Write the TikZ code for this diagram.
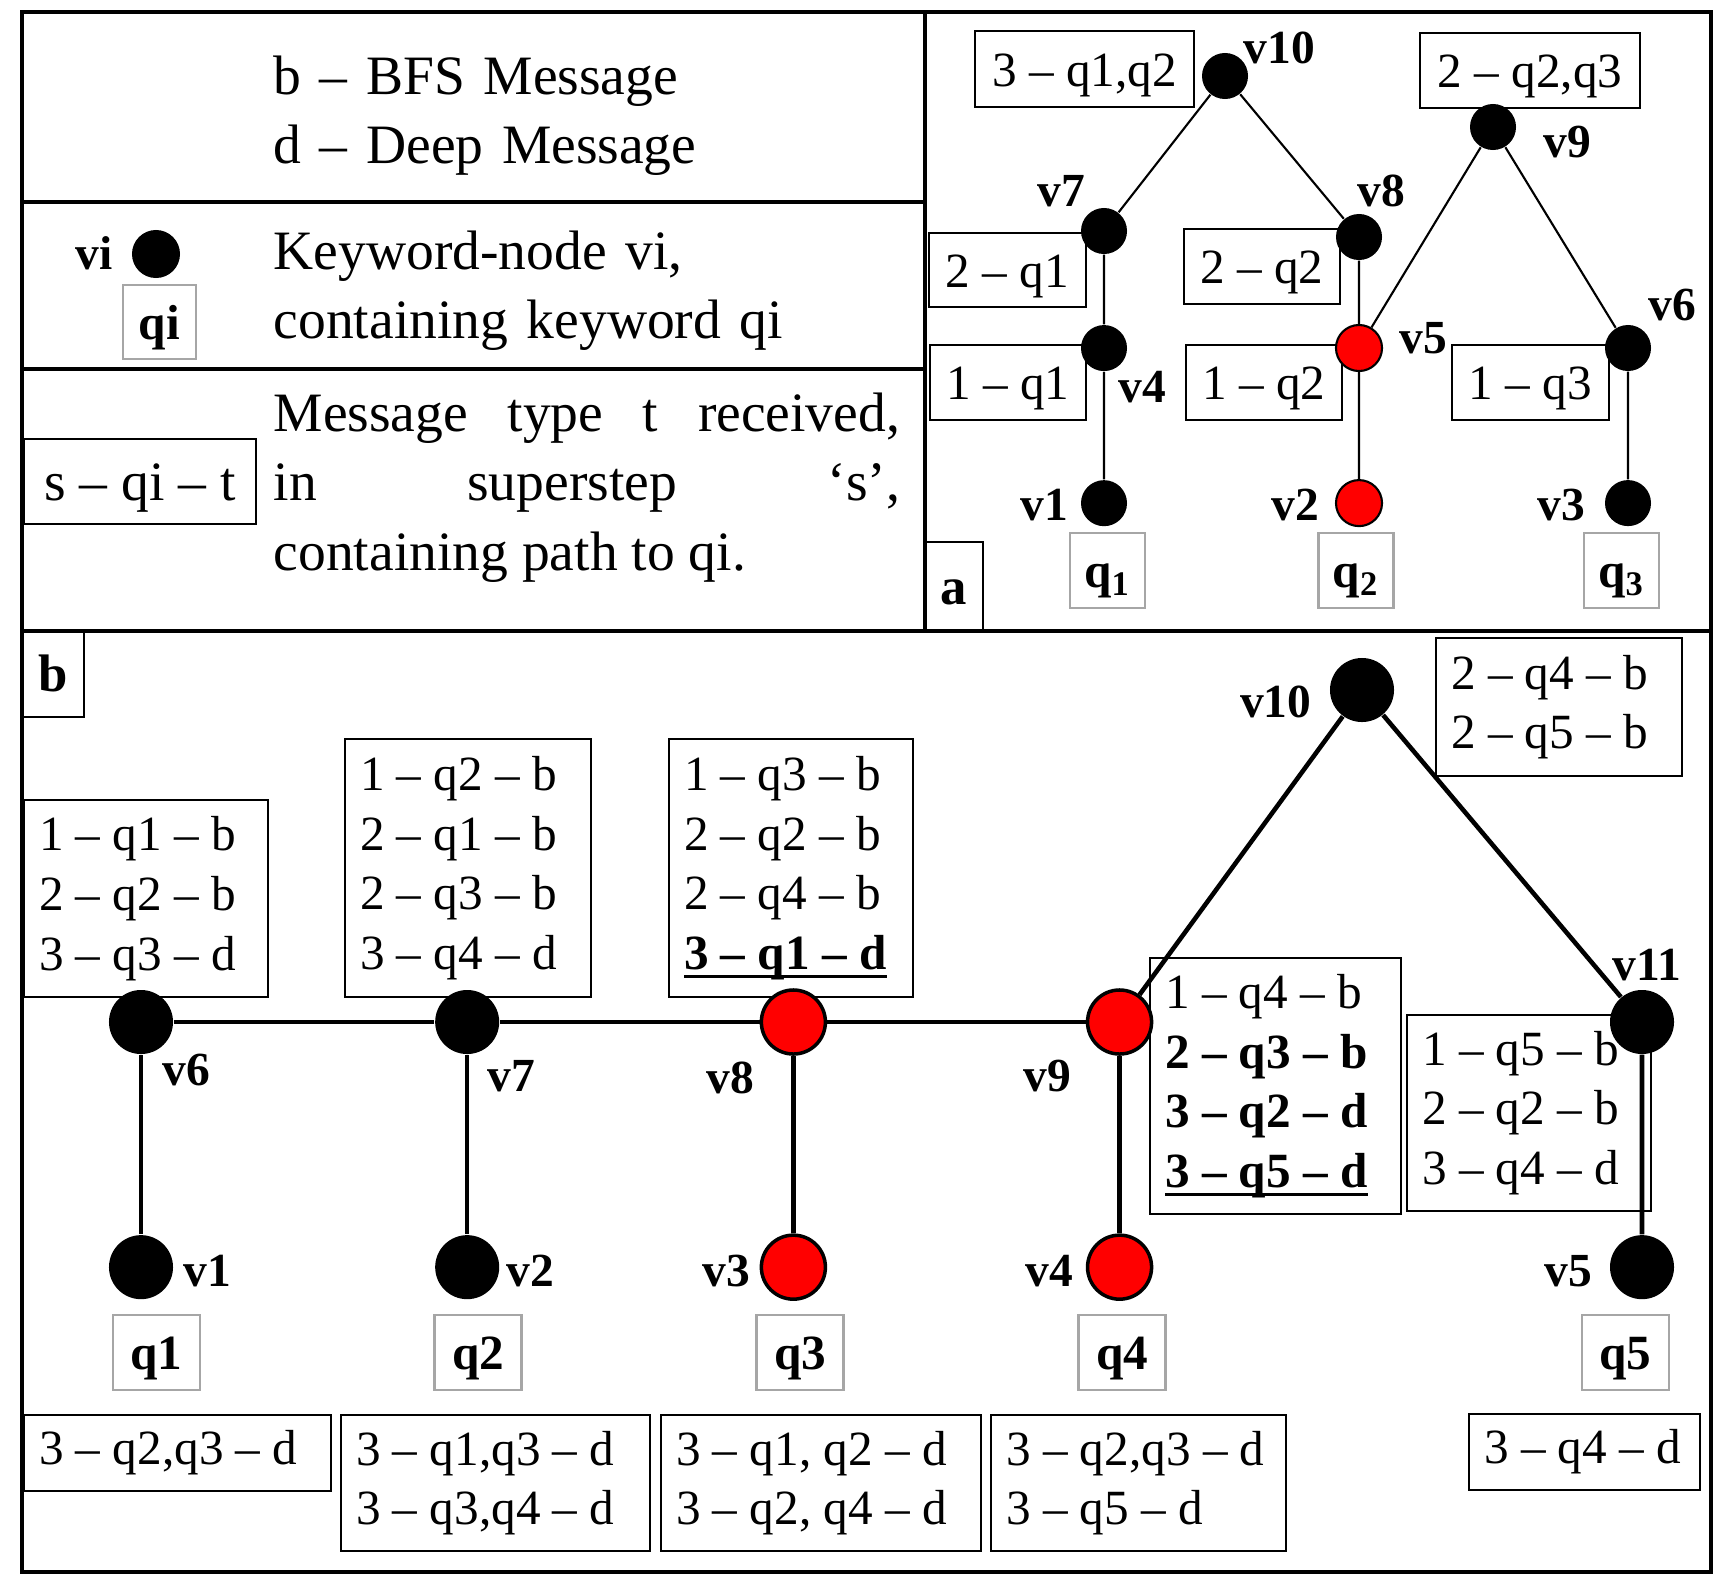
\documentclass[tikz,border=0pt]{standalone}
\usepackage{fontspec}
\setmainfont{Liberation Serif}
\usepackage{tikz}
\usetikzlibrary{positioning}
\tikzstyle{every node}=[font=\fontsize{14}{17}\selectfont]
\tikzstyle{kw}=[circle,fill=black,inner sep=0pt,minimum size=6.4mm]
\tikzstyle{kwred}=[kw,fill=red,draw=black,line width=1pt]
\tikzstyle{akw}=[circle,fill=black,inner sep=0pt,minimum size=4.6mm]
\tikzstyle{akwred}=[akw,fill=red,draw=black,line width=.6pt]
\tikzstyle{vlabel}=[inner sep=0pt,font=\fontsize{13.5}{14}\selectfont\bfseries]
\tikzstyle{msg}=[draw,line width=.6pt,anchor=north west,align=left,inner xsep=1.5mm,inner ysep=0pt,
  execute at begin node={\spaceskip=0pt\xspaceskip=0pt\relax}]
\tikzstyle{abox}=[draw,line width=.6pt,inner sep=0pt,text height=9.8pt,text depth=0pt]
\tikzstyle{qbox}=[abox,draw=gray!70,font=\fontsize{14}{14}\selectfont\bfseries]
\tikzstyle{pbox}=[abox,text height=10.5pt,font=\fontsize{15}{15}\selectfont\bfseries]
\tikzstyle{lgdtext}=[inner sep=0pt,anchor=base west,text width=6.26cm,align=left,font=\lgd]
\tikzstyle{bline}=[line width=1.3pt]
\tikzstyle{aline}=[line width=.6pt]
\tikzstyle{border}=[line width=1.4pt]
\newcommand{\lgd}{\fontsize{15.8}{19.8}\selectfont}
\newcommand{\uln}[1]{\leavevmode\setbox0=\hbox{#1}\rlap{\rule[-2.3pt]{\wd0}{.9pt}}\box0}

\begin{document}
\begin{tikzpicture}[x=0.01cm,y=-0.01cm]
      \useasboundingbox (0,0) rectangle (1727,1575);
      \draw[border] (22,12) rectangle (1711,1572);
      \draw[border] (925,12) -- (925,631);
      \draw[border] (22,631) -- (1711,631);
      \draw[border] (22,202) -- (925,202);
      \draw[border] (22,369) -- (925,369);

      \node[lgdtext] (bd) at (273,94) {b -- BFS Message\\d -- Deep Message};
      \node[kw,minimum size=4.8mm] (vi) at (156,254) {};
      \node[vlabel,anchor=base east] (vil) at (113,269) {vi};
      \node[qbox,minimum width=.73cm,minimum height=.74cm] (qi) at (159.5,322) {qi};
      \node[lgdtext] (kwd) at (273,269) {Keyword-node vi,\\containing keyword qi};
      \node[abox,font=\lgd,text height=10.8pt,minimum width=2.32cm,minimum height=.85cm] (sqt) at (140,481.5) {s -- qi -- t};
      \node[lgdtext,align=justify] (mt) at (273,431) {Message type t received,\linebreak in superstep `s',\linebreak containing path to qi.};

      \node[abox,minimum width=2.19cm,minimum height=.76cm] (t10) at (1084.5,69) {3 -- q1,q2};
      \node[abox,minimum width=2.2cm,minimum height=.75cm] (t9) at (1530,70.5) {2 -- q2,q3};
      \node[abox,minimum width=1.57cm,minimum height=.74cm] (t7) at (1007.5,270) {2 -- q1};
      \node[abox,minimum width=1.56cm,minimum height=.75cm] (t4) at (1008,382.5) {1 -- q1};
      \node[abox,minimum width=1.56cm,minimum height=.75cm] (t8) at (1262,266.5) {2 -- q2};
      \node[abox,minimum width=1.56cm,minimum height=.75cm] (t5) at (1264,382.5) {1 -- q2};
      \node[abox,minimum width=1.57cm,minimum height=.75cm] (t6) at (1530.5,382.5) {1 -- q3};
      \node[qbox,minimum size=.75cm] (aq1) at (1107.5,570.5) {q\textsubscript{1}};
      \node[qbox,minimum size=.75cm] (aq2) at (1356,570.5) {q\textsubscript{2}};
      \node[qbox,minimum size=.75cm] (aq3) at (1621.5,570.5) {q\textsubscript{3}};
      \node[pbox,minimum width=.58cm,minimum height=.89cm] (pa) at (954,586.5) {a};

      \node[akw] (a10) at (1225,76) {};
      \node[akw] (a7) at (1104,231) {};
      \node[akw, below of=a7, node distance=1.17cm] (a4) {};
      \node[akw, below of=a4, node distance=1.55cm] (a1) {};
      \node[akw] (a8) at (1359,237) {};
      \node[akwred] (a5) at (1359,348) {};
      \node[akwred, below of=a5, node distance=1.55cm] (a2) {};
      \node[akw] (a9) at (1493,127) {};
      \node[akw] (a6) at (1628,348) {};
      \node[akw, below of=a6, node distance=1.55cm] (a3) {};
      \node[vlabel,anchor=base west] (la10) at (1243,63) {v10};
      \node[vlabel,anchor=base east] (la7) at (1086,206) {v7};
      \node[vlabel,anchor=base west] (la4) at (1118,402) {v4};
      \node[vlabel,anchor=base east] (la1) at (1069,520) {v1};
      \node[vlabel,anchor=base west] (la8) at (1357,206) {v8};
      \node[vlabel,anchor=base west] (la5) at (1399,353) {v5};
      \node[vlabel,anchor=base east] (la2) at (1320,520) {v2};
      \node[vlabel,anchor=base west] (la9) at (1543,157) {v9};
      \node[vlabel,anchor=base west] (la6) at (1648,320) {v6};
      \node[vlabel,anchor=base east] (la3) at (1586,520) {v3};
      \draw[aline] (a10) -- (a7) -- (a4) -- (a1);
      \draw[aline] (a10) -- (a8) -- (a5) -- (a2);
      \draw[aline] (a9) -- (a5);
      \draw[aline] (a9) -- (a6) -- (a3);

      \node[pbox,minimum width=.62cm,minimum height=.87cm] (pb) at (53,673.5) {b};
      \node[msg,text width=2.14cm,minimum height=1.97cm] (m6) at (23,799) {1 -- q1 -- b\\2 -- q2 -- b\\3 -- q3 -- d};
      \node[msg,text width=2.16cm,minimum height=2.58cm] (m7) at (344,738) {1 -- q2 -- b\\2 -- q1 -- b\\2 -- q3 -- b\\3 -- q4 -- d};
      \node[msg,text width=2.14cm,minimum height=2.58cm] (m8) at (668,738) {1 -- q3 -- b\\2 -- q2 -- b\\2 -- q4 -- b\\\uln{\textbf{3 -- q1 -- d}}};
      \node[msg,text width=2.16cm,minimum height=1.38cm] (m10) at (1435,637) {2 -- q4 -- b\\2 -- q5 -- b};
      \node[msg,text width=2.21cm,minimum height=2.56cm] (m9) at (1149,957) {1 -- q4 -- b\\\textbf{2 -- q3 -- b}\\\textbf{3 -- q2 -- d}\\\uln{\textbf{3 -- q5 -- d}}};
      \node[msg,text width=2.14cm,minimum height=1.96cm] (m11) at (1406,1014) {1 -- q5 -- b\\2 -- q2 -- b\\3 -- q4 -- d};
      \node[msg,text width=2.77cm,minimum height=.76cm] (m1) at (23,1414) {3 -- q2,q3 -- d};
      \node[msg,text width=2.79cm,minimum height=1.36cm] (m2) at (340,1414) {3 -- q1,q3 -- d\\3 -- q3,q4 -- d};
      \node[msg,text width=2.9cm,minimum height=1.36cm] (m3) at (660,1414) {3 -- q1, q2 -- d\\3 -- q2, q4 -- d};
      \node[msg,text width=2.65cm,minimum height=1.36cm] (m4) at (990,1414) {3 -- q2,q3 -- d\\3 -- q5 -- d};
      \node[msg,text width=2.01cm,minimum height=.76cm] (m5) at (1468,1413) {3 -- q4 -- d};
      \node[qbox,minimum width=.87cm,minimum height=.75cm] (q1) at (156.5,1352.5) {q1};
      \node[qbox,minimum width=.87cm,minimum height=.75cm] (q2) at (478,1352.5) {q2};
      \node[qbox,minimum width=.87cm,minimum height=.75cm] (q3) at (800,1352.5) {q3};
      \node[qbox,minimum width=.87cm,minimum height=.75cm] (q4) at (1122,1352.5) {q4};
      \node[qbox,minimum width=.87cm,minimum height=.75cm] (q5) at (1625.5,1352.5) {q5};

      \node[kw] (v6) at (141,1022) {};
      \node[kw, right of=v6, node distance=3.26cm] (v7) {};
      \node[kwred, right of=v7, node distance=3.26cm] (v8) {};
      \node[kwred, right of=v8, node distance=3.26cm] (v9) {};
      \node[kw] (v10) at (1362,690) {};
      \node[kw] (v11) at (1642,1022) {};
      \node[kw, below of=v6, node distance=2.45cm] (v1) {};
      \node[kw, below of=v7, node distance=2.45cm] (v2) {};
      \node[kwred, below of=v8, node distance=2.45cm] (v3) {};
      \node[kwred, below of=v9, node distance=2.45cm] (v4) {};
      \node[kw, below of=v11, node distance=2.45cm] (v5) {};
      \node[vlabel,anchor=base west] (l6) at (162,1085) {v6};
      \node[vlabel,anchor=base west] (l7) at (487,1091) {v7};
      \node[vlabel,anchor=base east] (l8) at (755,1093) {v8};
      \node[vlabel,anchor=base east] (l9) at (1072,1091) {v9};
      \node[vlabel,anchor=base east] (l10) at (1312,717) {v10};
      \node[vlabel,anchor=base west] (l11) at (1612,980) {v11};
      \node[vlabel,anchor=base west] (l1) at (183,1286) {v1};
      \node[vlabel,anchor=base west] (l2) at (506,1286) {v2};
      \node[vlabel,anchor=base east] (l3) at (751,1286) {v3};
      \node[vlabel,anchor=base east] (l4) at (1074,1286) {v4};
      \node[vlabel,anchor=base east] (l5) at (1593,1286) {v5};
      \draw[bline] (v6) -- (v7) -- (v8) -- (v9);
      \draw[bline] (v9) -- (v10) -- (v11) -- (v5);
      \foreach \hi/\lo in {v6/v1,v7/v2,v8/v3,v9/v4}
        \draw[bline] (\hi) -- (\lo);
\end{tikzpicture}
\end{document}
